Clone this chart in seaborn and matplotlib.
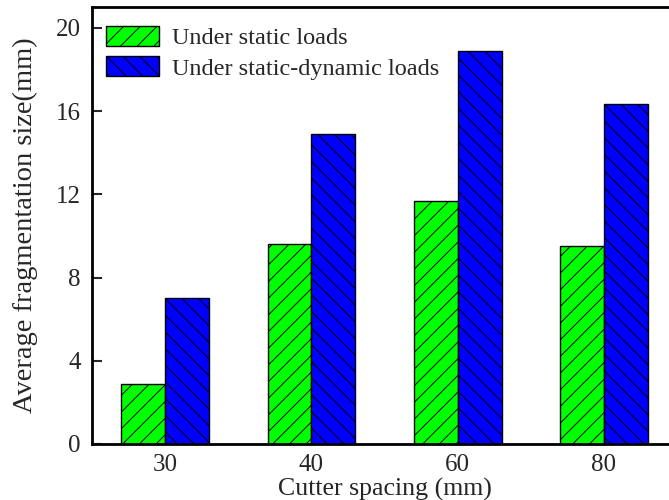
import matplotlib
matplotlib.use("Agg")
import matplotlib.pyplot as plt
import seaborn as sns
import pandas as pd

spacing = ["30", "40", "60", "80"]
static_vals = [2.9, 9.6, 11.7, 9.5]
dynamic_vals = [7.0, 14.9, 18.9, 16.35]
series = ["Under static loads", "Under static-dynamic loads"]
colors = ["#00FF00", "#0000FF"]
hatches = ["//", "\\\\"]
yticks = [0, 4, 8, 12, 16, 20]

df = pd.DataFrame({
    "spacing": spacing * 2,
    "value": static_vals + dynamic_vals,
    "series": [series[0]] * 4 + [series[1]] * 4,
})

sns.set_style("ticks")
plt.rcParams["font.family"] = ["Liberation Serif", "DejaVu Serif"]
plt.rcParams["hatch.linewidth"] = 0.7

fig = plt.figure(figsize=(6.69, 5.0), dpi=100)
ax = fig.add_axes([92 / 669, 56 / 500, 585 / 669, 437 / 500])

sns.barplot(data=df, x="spacing", y="value", hue="series", order=spacing,
            hue_order=series, palette=colors, width=0.6, ax=ax, legend=False,
            edgecolor="black", linewidth=1.0, saturation=1)

for cont, h in zip(ax.containers, hatches):
    for p in cont.patches:
        p.set_hatch(h)

ax.set_xlim(-0.5, 3.5)
ax.set_ylim(0, 21)
ax.set_yticks(yticks)
ax.set_yticklabels([str(v) for v in yticks])
ax.tick_params(axis="y", direction="in", length=7, width=1.5, labelsize=18, pad=8)
ax.tick_params(axis="x", length=0, labelsize=18, pad=7)
for s in ax.spines.values():
    s.set_linewidth(2)
    s.set_color("black")

ax.set_xlabel("Cutter spacing (mm)", fontsize=18.6, labelpad=1.5)
ax.set_ylabel("Average fragmentation size(mm)", fontsize=20.5, labelpad=13)

handles = [c.patches[0] for c in ax.containers]
ax.legend(handles, series, loc="upper left", frameon=False, fontsize=17.5,
          handlelength=2.2, handleheight=0.9, handletextpad=0.53,
          labelspacing=0.27, borderpad=0, borderaxespad=0,
          bbox_to_anchor=(106 / 669, 1 - 26 / 500), bbox_transform=fig.transFigure)

fig.savefig("out.png", dpi=100)
